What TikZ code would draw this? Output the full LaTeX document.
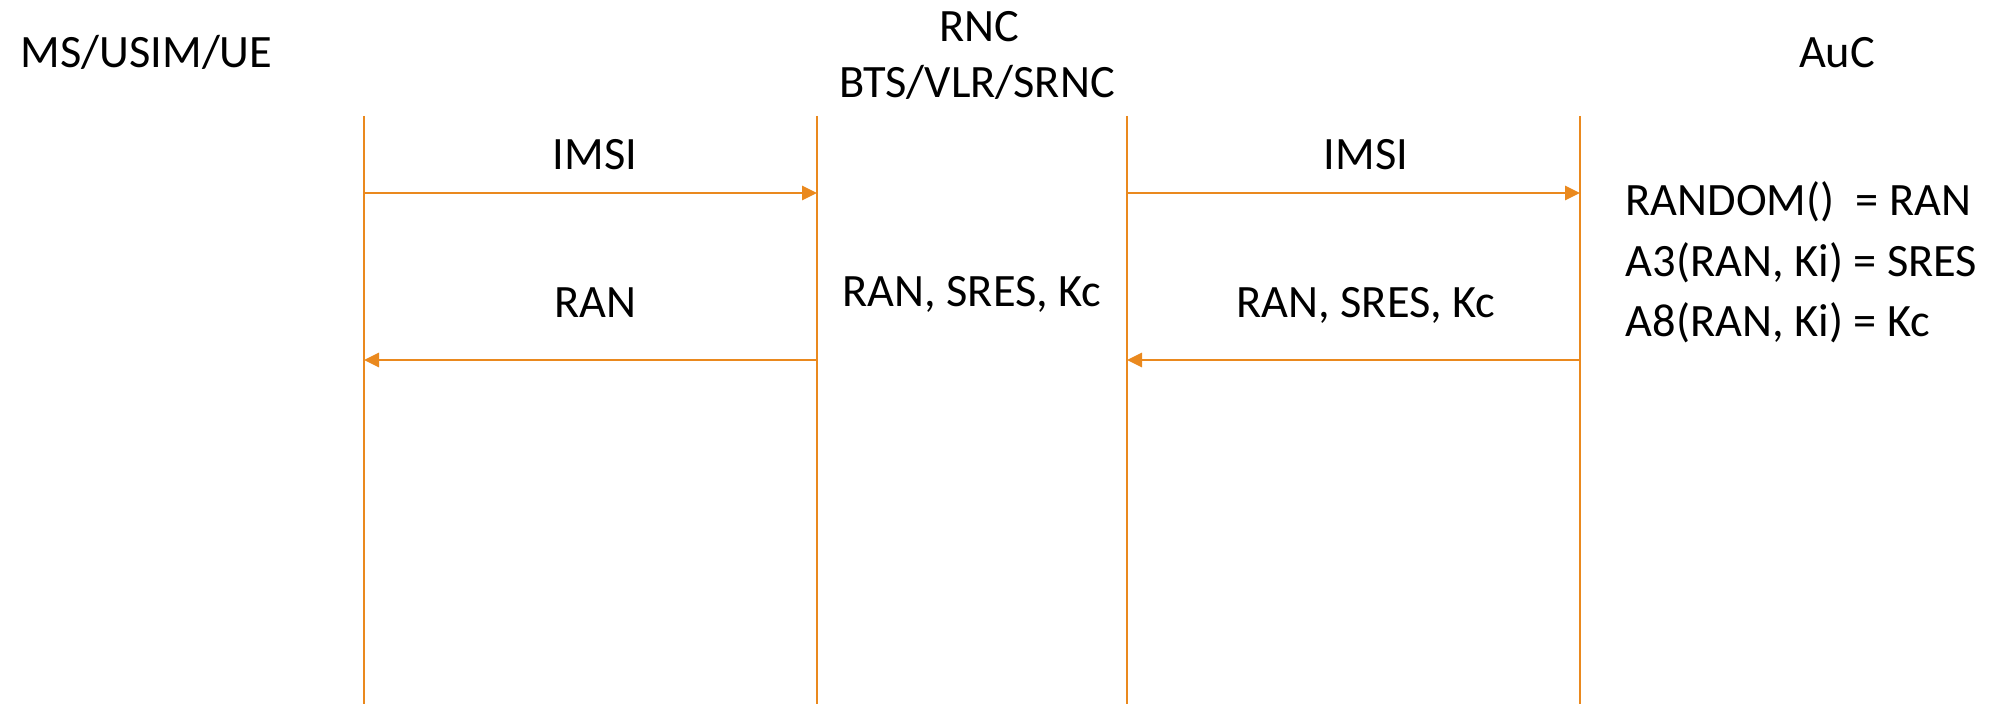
\documentclass[tikz,border=0pt]{standalone}
\usepackage{fontspec}
\setmainfont{Carlito}
\usepackage{xcolor}
\usetikzlibrary{arrows.meta}
\definecolor{lifeorange}{RGB}{234,137,30}
\tikzset{
  life/.style = {draw=lifeorange, line width=0.75pt},
  msg/.style  = {draw=lifeorange, line width=0.75pt,
                 -{Triangle[length=0.15cm, width=0.14cm]}},
  lbl/.style  = {font=\fontsize{13.2}{17.3}\selectfont, inner sep=0pt},
}
\begin{document}
\begin{tikzpicture}
  \useasboundingbox (0,0) rectangle (20.05,7.04);
  % lifelines
  \coordinate (ms-top)  at (3.64,5.88);  \coordinate (ms-bot)  at (3.64,0);
  \coordinate (bts-top) at (8.17,5.88);  \coordinate (bts-bot) at (8.17,0);
  \coordinate (vlr-top) at (11.27,5.88); \coordinate (vlr-bot) at (11.27,0);
  \coordinate (auc-top) at (15.80,5.88); \coordinate (auc-bot) at (15.80,0);
  \draw[life] (ms-top) -- (ms-bot);
  \draw[life] (bts-top) -- (bts-bot);
  \draw[life] (vlr-top) -- (vlr-bot);
  \draw[life] (auc-top) -- (auc-bot);
  % message end points
  \coordinate (ms-imsi)  at (3.64,5.11);  \coordinate (bts-imsi) at (8.17,5.11);
  \coordinate (vlr-imsi) at (11.27,5.11); \coordinate (auc-imsi) at (15.80,5.11);
  \coordinate (ms-ran)   at (3.64,3.44);  \coordinate (bts-ran)  at (8.17,3.44);
  \coordinate (vlr-ran)  at (11.27,3.44); \coordinate (auc-ran)  at (15.80,3.44);
  \draw[msg] (ms-imsi) -- (bts-imsi);
  \draw[msg] (vlr-imsi) -- (auc-imsi);
  \draw[msg] (bts-ran) -- (ms-ran);
  \draw[msg] (auc-ran) -- (vlr-ran);
  % headers
  \node[lbl, anchor=base west] (ms)  at (0.20,6.36) {MS/USIM/UE};
  \node[lbl, anchor=base] (rnc) at (9.79,6.62) {RNC};
  \node[lbl, anchor=base] (bts) at (9.77,6.06) {BTS/VLR/SRNC};
  \node[lbl, anchor=base] (auc) at (18.37,6.36) {AuC};
  % labels
  \node[lbl, anchor=base] (imsi1) at (5.95,5.34) {IMSI};
  \node[lbl, anchor=base] (imsi2) at (13.66,5.34) {IMSI};
  \node[lbl, anchor=base] (ran1)  at (5.95,3.86) {RAN};
  \node[lbl, anchor=base] (keys1) at (9.72,3.97) {RAN, SRES, Kc};
  \node[lbl, anchor=base] (keys2) at (13.66,3.86) {RAN, SRES, Kc};
  \node[lbl, anchor=base west, align=left] (algo) at (16.25,3.67)
    {RANDOM()\ \ = RAN\\A3(RAN, Ki) = SRES\\A8(RAN, Ki) = Kc};
\end{tikzpicture}
\end{document}
